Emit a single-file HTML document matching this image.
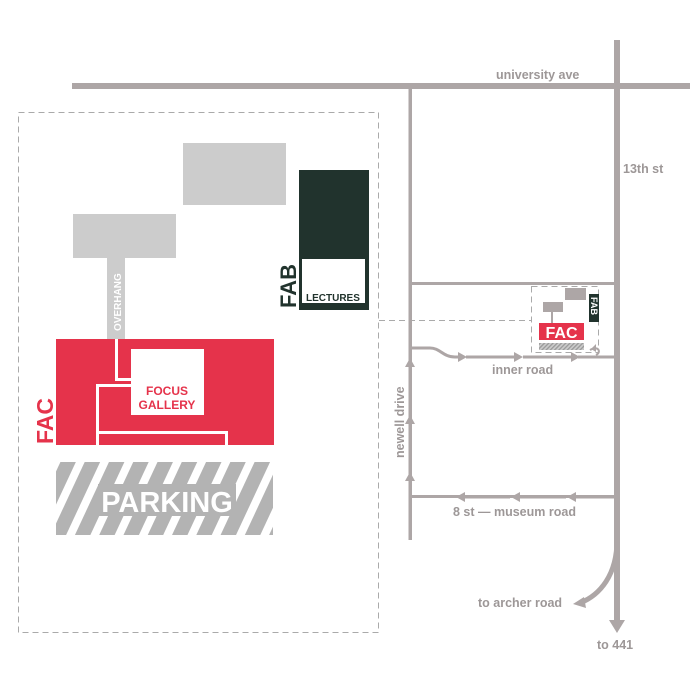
<!DOCTYPE html>
<html><head><meta charset="utf-8"><style>html,body{margin:0;padding:0;background:#fff}svg{display:block}</style></head><body>
<svg width="700" height="700" viewBox="0 0 700 700" xmlns="http://www.w3.org/2000/svg" font-family="Liberation Sans, sans-serif">
<defs>
<pattern id="st" width="22" height="22" patternUnits="userSpaceOnUse" patternTransform="rotate(25)">
<rect width="22" height="22" fill="#b3b3b3"/><rect width="8" height="22" fill="#fff"/></pattern>
<pattern id="st2" width="3" height="3" patternUnits="userSpaceOnUse" patternTransform="rotate(45)">
<rect width="3" height="3" fill="#ccc"/><rect width="1.3" height="3" fill="#999"/></pattern>
</defs>
<g fill="none" stroke="#aaa" stroke-width="1" stroke-dasharray="6,4">
<rect x="18.5" y="112.5" width="360" height="520"/>
<line x1="379" y1="320.5" x2="531" y2="320.5"/>
<rect x="531.5" y="286.5" width="67" height="66"/>
</g>
<g fill="#ada6a6" stroke="none">
<rect x="72" y="83" width="618" height="6"/>
<rect x="614" y="40" width="6" height="585"/>
<rect x="408.5" y="89" width="3.5" height="451"/>
<rect x="410" y="282" width="205" height="3"/>
<rect x="578" y="355.5" width="37" height="3"/>
<rect x="410" y="495" width="205" height="3"/>
</g>
<g stroke="#ada6a6" stroke-width="3" fill="none">
<path d="M410 348 H430 C440 348 443 357 455 357 H458"/>
<line x1="466" y1="357" x2="514" y2="357"/>
<line x1="523" y1="357" x2="571" y2="357"/>
<line x1="464" y1="497" x2="510" y2="497"/>
<line x1="519" y1="497" x2="566" y2="497"/>
<line x1="575" y1="497" x2="614" y2="497"/>
<path d="M617 540 C617 575 600 595 580 603" stroke-width="5"/>
<path d="M590 350 C598 345 602 352 596 355" stroke-width="2"/>
</g>
<g fill="#ada6a6">
<polygon points="458,352 467,357 458,362"/>
<polygon points="514,352 523,357 514,362"/>
<polygon points="571,352 580,357 571,362"/>
<polygon points="465,492 456,497 465,502"/>
<polygon points="520,492 511,497 520,502"/>
<polygon points="576,492 567,497 576,502"/>
<polygon points="405,367 410,358 415,367"/>
<polygon points="405,424 410,415 415,424"/>
<polygon points="405,481 410,472 415,481"/>
<polygon points="609,620 617,633 625,620"/>
<polygon points="573,604 584,597 586,608"/>
<polygon points="591,349 596,344 596,352"/>
</g>
<g fill="#8c8686" font-size="12.5" font-weight="bold" opacity="0.85">
<text x="496" y="79">university ave</text>
<text x="623" y="173">13th st</text>
<text x="492" y="374">inner road</text>
<text x="453" y="516">8 st — museum road</text>
<text x="478" y="607">to archer road</text>
<text x="597" y="649">to 441</text>
<text transform="translate(404,458) rotate(-90)">newell drive</text>
</g>
<rect x="183" y="143" width="103" height="62" fill="#ccc"/>
<rect x="73" y="214" width="103" height="44" fill="#ccc"/>
<rect x="107" y="258" width="18" height="82" fill="#ccc"/>
<text transform="translate(121,331) rotate(-90)" fill="#fff" font-size="10" font-weight="bold">OVERHANG</text>
<rect x="299" y="170" width="70" height="140" fill="#21332d"/>
<rect x="302" y="259" width="63" height="44" fill="#fff"/>
<text x="306" y="301" fill="#21332d" font-size="10" font-weight="bold">LECTURES</text>
<text transform="translate(296,308) rotate(-90)" fill="#21332d" font-size="22" font-weight="bold">FAB</text>
<rect x="56" y="339" width="218" height="106" fill="#e5334b"/>
<g stroke="#fff" stroke-width="3" fill="none">
<path d="M116.5 339 V379.5 H131"/>
<path d="M131 385.5 H97.5 V445"/>
<path d="M97.5 432.5 H226.5 V445"/>
</g>
<rect x="131" y="349" width="73" height="66" fill="#fff"/>
<text x="167" y="395" fill="#e5334b" font-size="12" font-weight="bold" text-anchor="middle">FOCUS</text>
<text x="167" y="409" fill="#e5334b" font-size="12" font-weight="bold" text-anchor="middle">GALLERY</text>
<text transform="translate(53,444) rotate(-90)" fill="#e5334b" font-size="23" font-weight="bold">FAC</text>
<rect x="56" y="462" width="217" height="73" fill="url(#st)"/>
<rect x="98" y="484" width="138" height="32" fill="#b3b3b3"/>
<text x="167" y="512" fill="#fff" font-size="29" font-weight="bold" text-anchor="middle">PARKING</text>
<rect x="565" y="288" width="21" height="12" fill="#ada6a6"/>
<rect x="543" y="302" width="20" height="10" fill="#ada6a6"/>
<rect x="551" y="312" width="2" height="11" fill="#ada6a6"/>
<rect x="539" y="323" width="45" height="17" fill="#e5334b"/>
<text x="561.5" y="338" fill="#fff" font-size="16" font-weight="bold" text-anchor="middle">FAC</text>
<rect x="539" y="343" width="45" height="7" fill="url(#st2)"/>
<rect x="589" y="294" width="10" height="28" fill="#21332d"/>
<text transform="translate(591,297) rotate(90)" fill="#fff" font-size="9" font-weight="bold">FAB</text>
</svg>
</body></html>
